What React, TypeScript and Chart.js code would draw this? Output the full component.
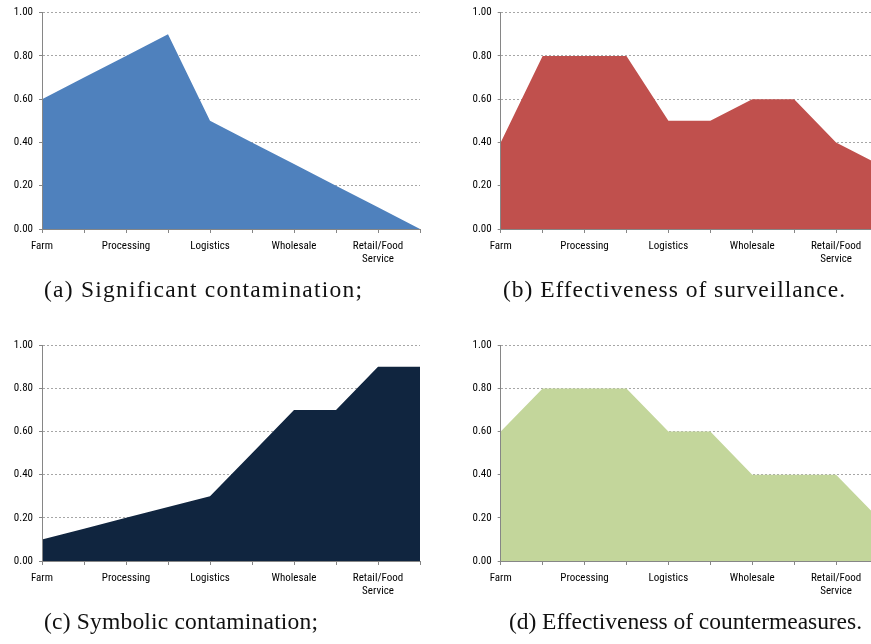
import React, { useEffect, useRef } from "react";
import { Chart, registerables } from "chart.js";

Chart.register(...registerables);

// ---- data ----
const xLabels: (string | string[])[] = [
  "Farm", "", "Processing", "", "Logistics", "", "Wholesale", "", ["Retail/Food", "Service"], "",
];
const yTicks = [0, 0.2, 0.4, 0.6, 0.8, 1.0];

const significantContamination = [0.6, 0.7, 0.8, 0.9, 0.5, 0.4, 0.3, 0.2, 0.1, 0.0];
const surveillanceEffectiveness = [0.4, 0.8, 0.8, 0.8, 0.5, 0.5, 0.6, 0.6, 0.4, 0.3];
const symbolicContamination = [0.1, 0.15, 0.2, 0.25, 0.3, 0.5, 0.7, 0.7, 0.9, 0.9];
const countermeasuresEffectiveness = [0.6, 0.8, 0.8, 0.8, 0.6, 0.6, 0.4, 0.4, 0.4, 0.2];

const captions = [
  "(a) Significant contamination;",
  "(b) Effectiveness of surveillance.",
  "(c) Symbolic contamination;",
  "(d) Effectiveness of countermeasures.",
];

const TICK_FONT = "'Roboto Condensed', 'DejaVu Sans Condensed', sans-serif";
const AXIS_GRAY = "#868686";

type PanelProps = {
  values: number[];
  color: string;
  left: number;
  top: number;
  width: number;
  height: number;
  yAxisWidth: number;
  padTop: number;
  padRight: number;
  xAxisHeight: number;
};

function Panel(p: PanelProps) {
  const ref = useRef<HTMLCanvasElement | null>(null);
  useEffect(() => {
    if (!ref.current) return;
    const chart = new Chart(ref.current, {
      type: "line",
      data: {
        labels: xLabels,
        datasets: [
          {
            data: p.values,
            backgroundColor: p.color,
            borderColor: p.color,
            borderWidth: 0,
            pointRadius: 0,
            fill: "origin",
            tension: 0,
          },
        ],
      },
      options: {
        animation: false,
        responsive: false,
        devicePixelRatio: 1,
        layout: { padding: { top: p.padTop, right: p.padRight, left: 0, bottom: 0 } },
        plugins: { legend: { display: false }, tooltip: { enabled: false } },
        scales: {
          x: {
            type: "category",
            offset: false,
            grid: {
              display: true,
              drawOnChartArea: false,
              drawTicks: true,
              tickLength: 4,
              tickColor: AXIS_GRAY,
              color: AXIS_GRAY,
            },
            border: { display: true, color: AXIS_GRAY, width: 1, z: 1 },
            ticks: {
              autoSkip: false,
              maxRotation: 0,
              minRotation: 0,
              padding: 7,
              color: "#000",
              font: { family: TICK_FONT, size: 11, lineHeight: 1.18 },
            },
            afterFit: (s: any) => {
              s.height = p.xAxisHeight;
            },
          },
          y: {
            min: 0,
            max: 1,
            afterBuildTicks: (s: any) => {
              s.ticks = yTicks.map((v) => ({ value: v }));
            },
            grid: {
              display: true,
              color: "#a6a6a6",
              lineWidth: 1,
              drawTicks: true,
              tickLength: 3,
              tickColor: AXIS_GRAY,
            },
            border: { display: true, color: AXIS_GRAY, width: 1, dash: [2, 2], z: 1 },
            ticks: {
              padding: 6,
              color: "#000",
              font: { family: TICK_FONT, size: 11 },
              callback: (v: any) => Number(v).toFixed(2),
            },
            afterFit: (s: any) => {
              s.width = p.yAxisWidth;
            },
          },
        },
      },
    });
    return () => chart.destroy();
  }, []);
  return (
    <canvas
      ref={ref}
      width={p.width}
      height={p.height}
      style={{ position: "absolute", left: p.left, top: p.top, width: p.width, height: p.height }}
    />
  );
}

const captionSpecs = [
  { x: 44, y: 297, w: 318 },
  { x: 503, y: 297, w: 342 },
  { x: 44, y: 629, w: 274 },
  { x: 509, y: 629, w: 353 },
];

export default function App() {
  return (
    <div
      style={{
        position: "absolute",
        left: 0,
        top: 0,
        width: 871,
        height: 644,
        overflow: "hidden",
        background: "#fff",
      }}
    >
      <Panel values={significantContamination} color="#4F81BD" left={0} top={0} width={435} height={275}
        yAxisWidth={42} padTop={12.7} padRight={15} xAxisHeight={46} />
      <Panel values={surveillanceEffectiveness} color="#C0504D" left={435} top={0} width={450} height={275}
        yAxisWidth={65.7} padTop={12.7} padRight={7} xAxisHeight={46} />
      <Panel values={symbolicContamination} color="#10253F" left={0} top={332} width={435} height={275}
        yAxisWidth={42} padTop={13.3} padRight={15} xAxisHeight={46} />
      <Panel values={countermeasuresEffectiveness} color="#C3D69B" left={435} top={332} width={450} height={275}
        yAxisWidth={65.7} padTop={13.3} padRight={7} xAxisHeight={46} />
      <svg
        width={871}
        height={644}
        style={{ position: "absolute", left: 0, top: 0, pointerEvents: "none" }}
      >
        {captions.map((c, i) => (
          <text
            key={i}
            x={captionSpecs[i].x}
            y={captionSpecs[i].y}
            textLength={captionSpecs[i].w}
            lengthAdjust="spacing"
            fill="#111"
            style={{ fontFamily: "'Liberation Serif', 'Noto Serif', serif", fontSize: 23.5 }}
          >
            {c}
          </text>
        ))}
      </svg>
    </div>
  );
}
